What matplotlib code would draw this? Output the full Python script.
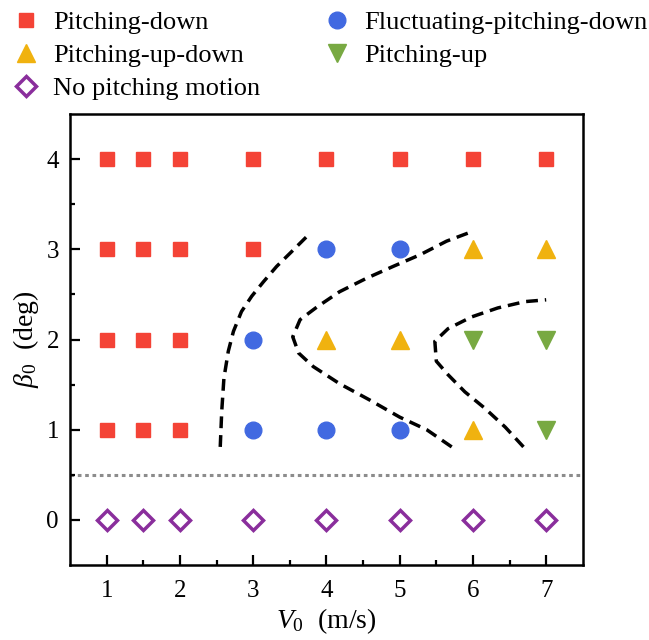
import matplotlib
matplotlib.use("Agg")
import matplotlib.pyplot as plt
from matplotlib.lines import Line2D

plt.rcParams["font.family"] = "Liberation Serif"
plt.rcParams["mathtext.fontset"] = "custom"
plt.rcParams["mathtext.rm"] = "Liberation Serif"
plt.rcParams["mathtext.it"] = "Liberation Serif:italic"

# Regime map: (V0, beta0) cases grouped by observed motion
down_v = [1, 1.5, 2, 3, 4, 5, 6, 7, 1, 1.5, 2, 3, 1, 1.5, 2, 1, 1.5, 2]
down_b = [4, 4, 4, 4, 4, 4, 4, 4, 3, 3, 3, 3, 2, 2, 2, 1, 1, 1]
fluct_v = [4, 5, 3, 3, 4, 5]
fluct_b = [3, 3, 2, 1, 1, 1]
updown_v = [6, 7, 4, 5, 6]
updown_b = [3, 3, 2, 2, 1]
up_v = [6, 7, 7]
up_b = [2, 2, 1]
none_v = [1, 1.5, 2, 3, 4, 5, 6, 7]
none_b = [0, 0, 0, 0, 0, 0, 0, 0]

# Hand-drawn regime boundaries
bound1_v = [2.55, 2.57, 2.60, 2.66, 2.73, 2.84, 2.98, 3.14, 3.32, 3.52, 3.73]
bound1_b = [0.81, 1.20, 1.57, 1.87, 2.09, 2.31, 2.48, 2.64, 2.81, 2.97, 3.14]
bound2_v = [5.71, 5.37, 5.00, 4.59, 4.18, 3.82, 3.62, 3.54, 3.64, 3.87,
            4.18, 4.55, 4.91, 5.28, 5.64, 6.00]
bound2_b = [0.81, 1.00, 1.14, 1.33, 1.51, 1.70, 1.85, 2.03, 2.22, 2.36,
            2.53, 2.68, 2.81, 2.94, 3.09, 3.20]
bound3_v = [6.69, 6.44, 6.16, 5.89, 5.66, 5.50, 5.48, 5.66, 5.98, 6.34, 6.71, 7.00]
bound3_b = [0.81, 1.03, 1.24, 1.42, 1.61, 1.76, 1.98, 2.12, 2.25, 2.35, 2.42, 2.44]

fig = plt.figure(figsize=(6.49, 6.40), dpi=100)
ax = fig.add_axes([0.108, 0.117, 0.790, 0.705])

red = "#f44336"
blue = "#4169e1"
gold = "#f0b20f"
green = "#78a942"
purple = "#8a2e9c"

ax.plot(down_v, down_b, ls="none", marker="s", ms=10, color=red, zorder=3)
ax.plot(fluct_v, fluct_b, ls="none", marker="o", ms=12, color=blue, zorder=3)
ax.plot(updown_v, updown_b, ls="none", marker="^", ms=13, color=gold, zorder=3)
ax.plot(up_v, up_b, ls="none", marker="v", ms=13, color=green, zorder=3)
ax.plot(none_v, none_b, ls="none", marker="D", ms=10, mfc="white",
        mec=purple, mew=2.5, zorder=3)

for bv, bb in [(bound1_v, bound1_b), (bound2_v, bound2_b), (bound3_v, bound3_b)]:
    ax.plot(bv, bb, color="black", lw=2.5, ls=(0, (3.4, 2)), zorder=2,
            solid_joinstyle="round")

ax.axhline(0.5, color="#8c8c8c", lw=2.2, ls=(0, (1.2, 1.2)), zorder=1)

ax.set_xlim(0.5, 7.5)
ax.set_ylim(-0.5, 4.5)
ax.set_xticks([1, 2, 3, 4, 5, 6, 7])
ax.set_xticks([1.5, 2.5, 3.5, 4.5, 5.5, 6.5], minor=True)
ax.set_yticks([0, 1, 2, 3, 4])
ax.set_yticks([0.5, 1.5, 2.5, 3.5], minor=True)
ax.tick_params(which="major", direction="in", length=7, width=1.6, labelsize=18)
ax.tick_params(which="minor", direction="in", length=3.5, width=1.6)
ax.tick_params(axis="x", which="major", pad=11)
ax.tick_params(axis="y", which="major", pad=8)
for s in ax.spines.values():
    s.set_linewidth(1.8)

ax.set_xlabel(r"$V_{\mathit{0}}$  (m/s)", fontsize=20, labelpad=3)
ax.set_ylabel(r"$\beta_{\mathit{0}}$  (deg)", fontsize=20, labelpad=4)

handles = [
    Line2D([], [], ls="none", marker="s", ms=10, color=red),
    Line2D([], [], ls="none", marker="^", ms=13, color=gold),
    Line2D([], [], ls="none", marker="D", ms=10, mfc="white", mec=purple, mew=2.5),
    Line2D([], [], ls="none", marker="o", ms=12, color=blue),
    Line2D([], [], ls="none", marker="v", ms=13, color=green),
]
labels = ["Pitching-down", "Pitching-up-down", "No pitching motion",
          "Fluctuating-pitching-down", "Pitching-up"]
fig.legend(handles, labels, ncol=2, loc="upper left", bbox_to_anchor=(-0.017, 1.021),
           frameon=False, fontsize=19, handletextpad=0.53, columnspacing=2.4,
           labelspacing=0.37, handlelength=1.0)

fig.savefig("out.png", dpi=100)
